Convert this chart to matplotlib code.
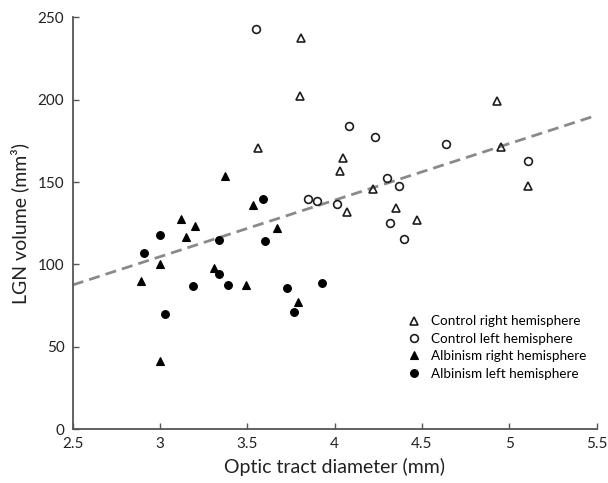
"""
LGN volume vs optic tract diameter, controls and albinism.
"""

import numpy as np
import matplotlib.pyplot as plt

plt.rcParams["font.family"] = ["Lato", "DejaVu Sans"]

# Control right hemisphere (open triangles)
ctrl_right_x = [3.81, 3.80, 3.56, 4.93, 4.955, 5.11, 4.05, 4.03, 4.22, 4.07, 4.35, 4.47]
ctrl_right_y = [237.7, 202.3, 170.9, 199.3, 171.5, 147.8, 164.6, 156.9, 145.8, 132.1, 134.1, 127.0]

# Control left hemisphere (open circles)
ctrl_left_x = [3.55, 3.85, 3.90, 4.015, 4.08, 4.23, 4.64, 5.105, 4.30, 4.37, 4.32, 4.40]
ctrl_left_y = [243.0, 139.7, 138.3, 136.7, 183.9, 177.2, 173.0, 162.8, 152.5, 147.6, 125.2, 115.6]

# Albinism right hemisphere (filled triangles)
alb_right_x = [3.37, 3.53, 3.12, 3.20, 3.15, 3.67, 3.00, 3.31, 2.89, 3.49, 3.79, 3.00]
alb_right_y = [153.7, 136.1, 127.4, 123.5, 116.6, 121.9, 100.4, 97.8, 89.9, 87.3, 77.2, 41.5]

# Albinism left hemisphere (filled circles)
alb_left_x = [3.59, 3.00, 3.34, 3.60, 2.91, 3.34, 3.19, 3.39, 3.73, 3.93, 3.77, 3.03]
alb_left_y = [139.9, 117.9, 114.6, 114.4, 106.9, 94.4, 86.9, 87.5, 85.9, 88.5, 71.3, 69.7]

# Regression line: y = slope * x + intercept
fit_slope = 34.33
fit_intercept = 1.67

x_ticks = [2.5, 3, 3.5, 4, 4.5, 5, 5.5]
x_tick_labels = ["2.5", "3", "3.5", "4", "4.5", "5", "5.5"]
y_ticks = [0, 50, 100, 150, 200, 250]

fig = plt.figure(figsize=(6.08, 4.83), dpi=100)
ax = fig.add_axes([0.1196, 0.1118, 0.8615, 0.8522])

# Dashed fit line across full x range
x_line = np.array([2.5, 5.5])
ax.plot(
    x_line,
    fit_slope * x_line + fit_intercept,
    linestyle=(0, (4, 2.2)),
    color="#8a8a8a",
    linewidth=2.0,
    zorder=1,
)

edge = "#1e1e1e"
ax.plot(ctrl_right_x, ctrl_right_y, linestyle="none", marker="^", ms=6,
        mfc="none", mec=edge, mew=1.2, label="Control right hemisphere", zorder=3)
ax.plot(ctrl_left_x, ctrl_left_y, linestyle="none", marker="o", ms=5.6,
        mfc="none", mec=edge, mew=1.2, label="Control left hemisphere", zorder=3)
ax.plot(alb_right_x, alb_right_y, linestyle="none", marker="^", ms=6,
        mfc="black", mec="black", mew=0.8, label="Albinism right hemisphere", zorder=3)
ax.plot(alb_left_x, alb_left_y, linestyle="none", marker="o", ms=5.6,
        mfc="black", mec="black", mew=0.8, label="Albinism left hemisphere", zorder=3)

ax.set_xlim(2.5, 5.5)
ax.set_ylim(0, 250)
ax.set_xticks(x_ticks)
ax.set_xticklabels(x_tick_labels)
ax.set_yticks(y_ticks)

for side in ("top", "right"):
    ax.spines[side].set_visible(False)
for side in ("left", "bottom"):
    ax.spines[side].set_color("#555555")
    ax.spines[side].set_linewidth(1.3)

ax.tick_params(direction="in", length=4, width=1, colors="#555555",
               labelcolor="#222222", labelsize=11, pad=6)

ax.set_xlabel("Optic tract diameter (mm)", fontsize=14, color="#222222", labelpad=5)
ax.set_ylabel("LGN volume (mm³)", fontsize=14, color="#222222", labelpad=6)

ax.legend(
    frameon=False,
    loc="upper left",
    bbox_to_anchor=(0.628, 0.289),
    handlelength=1.0,
    handletextpad=0.75,
    labelspacing=0.4,
    fontsize=9.7,
    borderaxespad=0,
)

fig.savefig("out.png", dpi=100)
